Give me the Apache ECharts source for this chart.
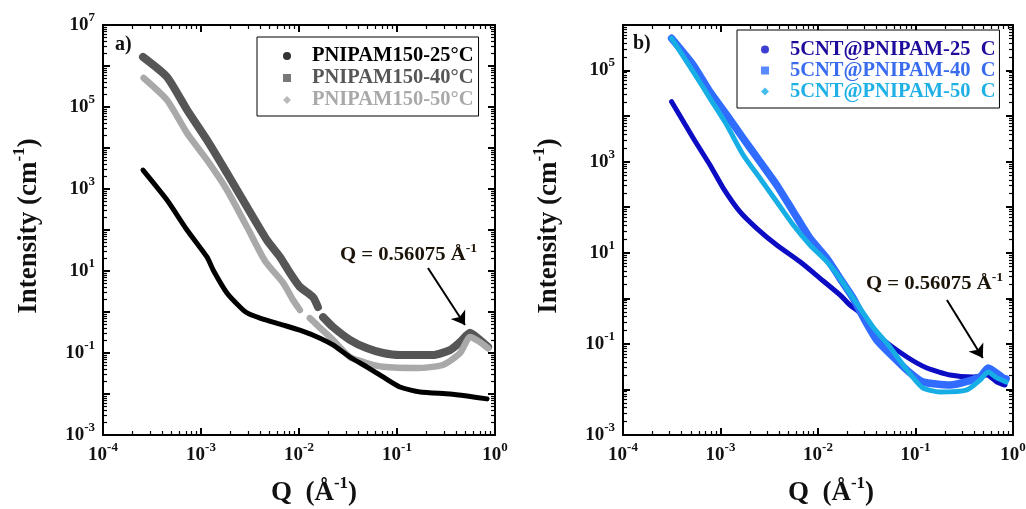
<!DOCTYPE html>
<html><head><meta charset="utf-8">
<script src="https://cdn.jsdelivr.net/npm/echarts@6/dist/echarts.min.js"></script>
<style>html,body{margin:0;padding:0;background:#fff}#c{width:1026px;height:509px}</style>
</head><body><div id="c"></div>
<script>
// ---- Panel a) PNIPAM150 ----
const qA25 = [2.56e-4, 4.5e-4, 7.2e-4, 1.15e-3, 1.33e-3, 1.84e-3, 2.5e-3, 2.95e-3, 4.0e-3, 6.9e-3, 0.0102, 0.0164, 0.0222, 0.033, 0.049, 0.072, 0.107, 0.172, 0.347, 0.52, 0.83];
const iA25 = [2900, 540, 100, 22, 10.6, 2.9, 1.32, 0.95, 0.71, 0.48, 0.36, 0.23, 0.157, 0.080, 0.046, 0.026, 0.0148, 0.0112, 0.0100, 0.0089, 0.0076];
const qA40 = [2.56e-4, 4.5e-4, 7.2e-4, 1.15e-3, 1.84e-3, 2.95e-3, 4.7e-3, 6.4e-3, 8.1e-3, 0.0102, 0.0139, 0.0156, 0.0166, 0.0176, 0.0222, 0.033, 0.049, 0.072, 0.107, 0.233, 0.347, 0.44, 0.556, 0.70, 0.85];
const iA40 = [1.66e6, 5.4e5, 8.5e4, 1.57e4, 2450, 364, 57, 22, 8.9, 4.1, 2.3, 1.32, null, 0.75, 0.43, 0.21, 0.132, 0.10, 0.089, 0.089, 0.118, 0.185, 0.31, 0.21, 0.14];
const qA50 = [2.6e-4, 4.5e-4, 7.2e-4, 1.15e-3, 1.84e-3, 2.95e-3, 4.5e-3, 6.9e-3, 8.7e-3, 0.0102, 0.0115, 0.0129, 0.0164, 0.0222, 0.033, 0.049, 0.072, 0.16, 0.294, 0.44, 0.556, 0.70, 0.85];
const iA50 = [5.1e5, 1.48e5, 2.3e4, 5.1e3, 946, 118, 17.5, 5.1, 1.96, 1.12, null, 0.71, 0.41, 0.21, 0.08, 0.057, 0.046, 0.043, 0.051, 0.1, 0.245, 0.185, 0.13];
// ---- Panel b) 5CNT@PNIPAM ----
const qB25 = [3.15e-4, 5.26e-4, 7.8e-4, 1.07e-3, 1.58e-3, 2.35e-3, 3.77e-3, 6.5e-3, 0.0105, 0.0168, 0.0213, 0.027, 0.0433, 0.0818, 0.131, 0.226, 0.389, 0.541, 0.685, 0.828];
const iB25 = [2.07e4, 3.26e3, 845, 260, 80, 34.5, 14.8, 6.4, 2.75, 1.19, 0.71, 0.48, 0.142, 0.0516, 0.0296, 0.0208, 0.0188, 0.0208, 0.0146, 0.0125];
const qB40 = [3.15e-4, 5.26e-4, 7.8e-4, 1.16e-3, 1.71e-3, 2.54e-3, 3.77e-3, 5.58e-3, 8.28e-3, 0.0123, 0.0168, 0.023, 0.029, 0.040, 0.059, 0.088, 0.119, 0.226, 0.459, 0.555, 0.789, 0.85];
const iB40 = [5.1e5, 1.32e5, 3.4e4, 1.06e4, 3.26e3, 1000, 308, 80, 20.8, 7.6, 2.75, 1.0, 0.39, 0.122, 0.052, 0.023, 0.0146, 0.0125, 0.0188, 0.0296, 0.0179, 0.017];
const qB50 = [3.15e-4, 5.26e-4, 7.8e-4, 1.16e-3, 1.71e-3, 2.54e-3, 3.77e-3, 5.58e-3, 8.28e-3, 0.0123, 0.0168, 0.023, 0.0366, 0.0547, 0.0818, 0.119, 0.178, 0.337, 0.459, 0.555, 0.685, 0.85];
const iB50 = [5.1e5, 9.4e4, 2.46e4, 6.4e3, 1.4e3, 431, 132, 40.7, 14.8, 6.4, 2.75, 1.0, 0.235, 0.0855, 0.0267, 0.0108, 0.0088, 0.0098, 0.0161, 0.0242, 0.0179, 0.0146];

const namesA = ['PNIPAM150-25°C', 'PNIPAM150-40°C', 'PNIPAM150-50°C'];
const namesB = ['5CNT@PNIPAM-25  C', '5CNT@PNIPAM-40  C', '5CNT@PNIPAM-50  C'];

// ---- ticks ----
const xMajor = [1e-4, 1e-3, 1e-2, 1e-1, 1];
const yMajorA = [1e-3, 1e-2, 1e-1, 1, 10, 1e2, 1e3, 1e4, 1e5, 1e6, 1e7];
const yLabelsA = [1e-3, 1e-1, 10, 1e3, 1e5, 1e7];
const yMajorB = [1e-3, 1e-2, 1e-1, 1, 10, 1e2, 1e3, 1e4, 1e5, 1e6];
const yLabelsB = [1e-3, 1e-1, 10, 1e3, 1e5];
const minorMult = [2, 3, 4, 5, 6, 7, 8, 9];
function minorTicks(majors) {
  const out = [];
  for (let k = 0; k < majors.length - 1; k++) for (const m of minorMult) out.push(+(majors[k] * m).toPrecision(3));
  return out;
}

const FONT = '"Liberation Serif","Times New Roman",serif';
const labelRich = {
  b: {fontFamily: FONT, fontWeight: 'bold', fontSize: 19, color: '#111', lineHeight: 28, verticalAlign: 'middle'},
  s: {fontFamily: FONT, fontWeight: 'bold', fontSize: 13, color: '#111', verticalAlign: 'top'}
};
function powLabel(v) { return '{b|10}{s|' + Math.round(Math.log10(v)) + '}'; }
const nameRich = {
  t: {fontFamily: FONT, fontWeight: 'bold', fontSize: 27, color: '#111', lineHeight: 36, verticalAlign: 'middle'},
  s: {fontFamily: FONT, fontWeight: 'bold', fontSize: 17, color: '#111', verticalAlign: 'top'}
};

function axisSet(dim, g, min, max, majors, labels, namePad, nameGap) {
  const minors = minorTicks(majors);
  const pos = dim === 'x' ? ['bottom', 'top'] : ['left', 'right'];
  const base = {gridIndex: g, type: 'log', min: min, max: max, splitLine: {show: false}};
  const line = {show: true, onZero: false, lineStyle: {color: '#000', width: 2}};
  const axes = [];
  axes.push(Object.assign({}, base, {
    position: pos[0], axisLine: line,
    axisTick: {inside: true, length: 7, customValues: majors, lineStyle: {color: '#000', width: 2}},
    axisLabel: {customValues: labels, formatter: powLabel, rich: labelRich, margin: dim === 'x' ? 6 : 8},
    name: dim === 'x' ? '{t|Q  (Å}{s|-1}{t|)}' : '{t|Intensity (cm}{s|-1}{t|)}',
    nameLocation: 'middle', nameGap: nameGap, nameRotate: dim === 'x' ? 0 : 90,
    nameTextStyle: {rich: nameRich, padding: namePad}
  }));
  axes.push(Object.assign({}, base, {
    position: pos[0], axisLine: {show: false, onZero: false},
    axisTick: {inside: true, length: 4, customValues: minors, lineStyle: {color: '#000', width: 1.2}},
    axisLabel: {show: false}
  }));
  axes.push(Object.assign({}, base, {
    position: pos[1], axisLine: line,
    axisTick: {inside: true, length: 7, customValues: majors, lineStyle: {color: '#000', width: 2}},
    axisLabel: {show: false}
  }));
  axes.push(Object.assign({}, base, {
    position: pos[1], axisLine: {show: false, onZero: false},
    axisTick: {inside: true, length: 4, customValues: minors, lineStyle: {color: '#000', width: 1.2}},
    axisLabel: {show: false}
  }));
  return axes;
}

function pairs(q, i) { return q.map((v, k) => [v, i[k] == null ? '-' : i[k]]); }

function lineSeries(name, q, i, color, width, xi, yi, z) {
  return {
    name: name, type: 'line', xAxisIndex: xi, yAxisIndex: yi, data: pairs(q, i),
    showSymbol: false, symbol: 'none', smooth: 0.2, connectNulls: false, z: z,
    lineStyle: {color: color, width: width, cap: 'round', join: 'round'},
    itemStyle: {color: color}, silent: true
  };
}
// legend-only entries (no data) so the legend shows marker symbols without a line
function legendKey(name, color, symbol, xi, yi) {
  return {name: name, type: 'scatter', xAxisIndex: xi, yAxisIndex: yi, data: [], symbol: symbol, itemStyle: {color: color}, silent: true};
}

const colA = ['#000000', '#565656', '#a9a9a9'];
const colB = ['#0c0cc4', '#2f6cff', '#17aee6'];
const txtB = ['#1e0c9c', '#3a6cf0', '#1fb0e6'];
const icons = ['circle', 'rect', 'diamond'];

function arrow(x1, y1, x2, y2) {
  return {
    silent: true, symbol: ['none', 'arrow'], symbolSize: 13, animation: false,
    label: {show: false}, lineStyle: {color: '#000', width: 2, type: 'solid'},
    data: [[{coord: [x1, y1]}, {coord: [x2, y2]}]]
  };
}

const seriesA40 = lineSeries(namesA[1], qA40, iA40, colA[1], 8, 0, 0, 2);
const seriesA50 = lineSeries(namesA[2], qA50, iA50, colA[2], 6.5, 0, 0, 3);
const seriesA25 = lineSeries(namesA[0], qA25, iA25, colA[0], 5, 0, 0, 4);
seriesA25.markLine = arrow(0.207, 11.8, 0.494, 0.48);
const seriesB25 = lineSeries(namesB[0], qB25, iB25, colB[0], 5, 4, 4, 2);
const seriesB40 = lineSeries(namesB[1], qB40, iB40, colB[1], 7.5, 4, 4, 3);
const seriesB50 = lineSeries(namesB[2], qB50, iB50, colB[2], 5, 4, 4, 4);
seriesB50.markLine = arrow(0.21, 0.92, 0.49, 0.049);

const keys = [].concat(
  namesA.map((n, k) => legendKey(n, colA[k], icons[k], 0, 0)),
  namesB.map((n, k) => legendKey(n, colB[k], icons[k], 4, 4))
);

const legendText = {fontFamily: FONT, fontWeight: 'bold', fontSize: 20.5, lineHeight: 22, padding: [0, 0, 0, 16]};

const annRich = {
  t: {fontFamily: FONT, fontWeight: 'bold', fontSize: 18, fill: '#1c1408', lineHeight: 24, verticalAlign: 'middle'},
  s: {fontFamily: FONT, fontWeight: 'bold', fontSize: 12, fill: '#1c1408', verticalAlign: 'top'}
};

const option = {
  animation: false,
  backgroundColor: '#fff',
  grid: [
    {left: 103, top: 25, width: 392, height: 410, outerBoundsMode: 'none', containLabel: false},
    {left: 623, top: 25, width: 390, height: 410, outerBoundsMode: 'none', containLabel: false}
  ],
  xAxis: [].concat(
    axisSet('x', 0, 1e-4, 1, xMajor, xMajor, [0, 0, 0, 30], 40),
    axisSet('x', 1, 1e-4, 1, xMajor, xMajor, [0, 0, 0, 26], 40)
  ),
  yAxis: [].concat(
    axisSet('y', 0, 1e-3, 1e7, yMajorA, yLabelsA, [0, 0, 0, 8], 56),
    axisSet('y', 1, 1e-3, 1e6, yMajorB, yLabelsB, [0, 0, 0, 8], 56)
  ),
  legend: [
    {
      left: 257, top: 37, orient: 'vertical', borderColor: '#000', borderWidth: 1,
      padding: [8, 5, 5, 26], itemWidth: 8, itemHeight: 8, itemGap: 0,
      backgroundColor: '#fff', selectedMode: false,
      textStyle: legendText,
      data: namesA.map((n, k) => ({name: n, icon: icons[k], textStyle: {color: colA[k]}}))
    },
    {
      left: 737, top: 30, orient: 'vertical', borderColor: '#000', borderWidth: 1,
      padding: [9, 4, 6, 24], itemWidth: 8, itemHeight: 8, itemGap: 0,
      backgroundColor: '#fff', selectedMode: false,
      textStyle: Object.assign({}, legendText, {lineHeight: 20.5, padding: [0, 0, 0, 16]}),
      data: namesB.map((n, k) => ({name: n, icon: icons[k], textStyle: {color: txtB[k]}}))
    }
  ],
  graphic: [
    {type: 'text', left: 115, top: 35, style: {text: 'a)', font: 'bold 20px ' + FONT, fill: '#111'}},
    {type: 'text', left: 633, top: 34, style: {text: 'b)', font: 'bold 20px ' + FONT, fill: '#111'}},
    {type: 'text', x: 340, y: 243, scaleX: 1.15, style: {text: '{t|Q = 0.56075 Å}{s|-1}', rich: annRich}},
    {type: 'text', x: 866, y: 272, scaleX: 1.15, style: {text: '{t|Q = 0.56075 Å}{s|-1}', rich: annRich}}
  ],
  series: keys.concat([seriesA40, seriesA50, seriesA25, seriesB25, seriesB40, seriesB50])
};

const chart = echarts.init(document.getElementById('c'), null, {renderer: 'canvas'});
chart.setOption(option);
</script>
</body></html>
